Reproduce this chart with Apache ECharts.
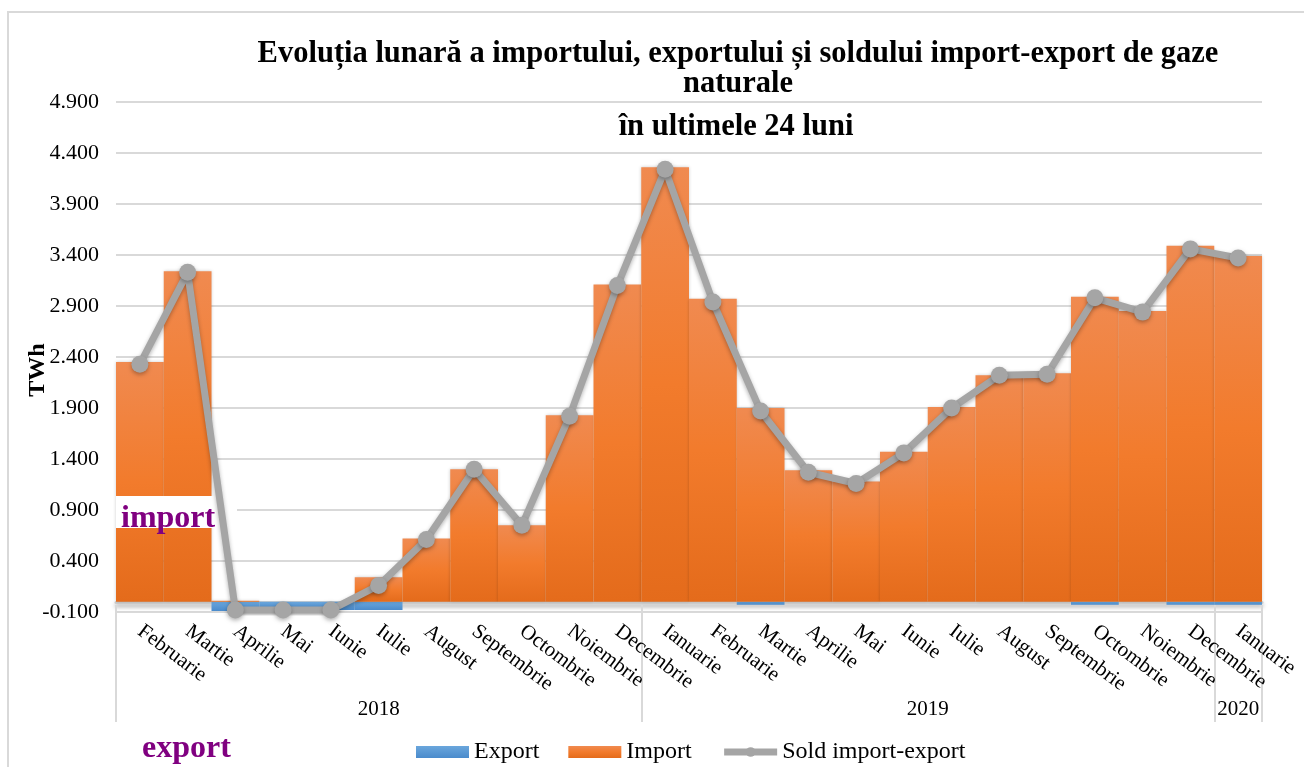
<!DOCTYPE html>
<html>
<head>
<meta charset="utf-8">
<script src="https://cdn.jsdelivr.net/npm/echarts@6/dist/echarts.min.js"></script>
<style>
  html, body { margin: 0; padding: 0; background: #fff; }
  #chart { width: 1304px; height: 767px; }
</style>
</head>
<body>
<div id="chart"></div>
<script>
var months = ['Februarie', 'Martie', 'Aprilie', 'Mai', 'Iunie', 'Iulie', 'August', 'Septembrie', 'Octombrie', 'Noiembrie', 'Decembrie',
    'Ianuarie', 'Februarie', 'Martie', 'Aprilie', 'Mai', 'Iunie', 'Iulie', 'August', 'Septembrie', 'Octombrie', 'Noiembrie', 'Decembrie',
    'Ianuarie'];
var years = ['2018', '2019', '2020'];
var yearSpans = [11, 12, 1];

var importVals = [2.35, 3.24, 0.01, 0, 0, 0.24, 0.62, 1.30, 0.75, 1.83, 3.11,
    4.26, 2.97, 1.90, 1.29, 1.18, 1.47, 1.91, 2.22, 2.24, 2.99, 2.85, 3.49,
    3.39];
var exportVals = [0, 0, -0.09, -0.08, -0.08, -0.08, 0, 0, 0, 0, 0,
    0, 0, -0.03, 0, 0, 0, 0, 0, 0, -0.03, 0, -0.03,
    -0.03];
var soldVals = [2.33, 3.23, -0.08, -0.08, -0.08, 0.16, 0.61, 1.30, 0.75, 1.82, 3.10,
    4.24, 2.94, 1.87, 1.27, 1.16, 1.46, 1.90, 2.22, 2.23, 2.98, 2.84, 3.46,
    3.37];

// y tick labels run -0.100 ... 4.900
var yMin = -0.1, yMax = 4.9, yStep = 0.5;

var serif = '"Liberation Serif", "Times New Roman", serif';

// year band boundaries and centres (in category units)
var bounds = [0], centres = [];
var acc = 0;
for (var i = 0; i < yearSpans.length; i++) {
    centres.push(acc + yearSpans[i] / 2);
    acc += yearSpans[i];
    bounds.push(acc);
}

var myChart = echarts.init(document.getElementById('chart'));
var option = {
    backgroundColor: '#fff',
    animation: false,
    title: [{
        text: 'Evoluția lunară a importului, exportului și soldului import-export de gaze\nnaturale',
        left: 733,
        textAlign: 'center',
        top: 34,
        textStyle: {
            fontFamily: serif,
            fontWeight: 'bold',
            fontSize: 30.5,
            lineHeight: 30,
            color: '#000'
        }
    }, {
        text: 'în ultimele 24 luni',
        left: 731,
        textAlign: 'center',
        top: 107,
        textStyle: {
            fontFamily: serif,
            fontWeight: 'bold',
            fontSize: 30.5,
            lineHeight: 30,
            color: '#000'
        }
    }],
    legend: {
        top: 735,
        left: 411,
        itemWidth: 53,
        itemHeight: 12,
        itemGap: 29,
        lineStyle: {width: 7},
        textStyle: {
            fontFamily: serif,
            fontSize: 24,
            color: '#000'
        },
        data: [
            {name: 'Export', icon: 'rect'},
            {name: 'Import', icon: 'rect'},
            {name: 'Sold import-export'}
        ]
    },
    grid: {
        left: 116,
        right: 42,
        top: 102,
        bottom: 155,
        containLabel: false
    },
    xAxis: [{
        type: 'category',
        data: months,
        boundaryGap: true,
        axisLine: {
            onZero: true,
            onZeroAxisIndex: 1,
            lineStyle: {
                color: '#cfcfcf',
                width: 3,
                shadowColor: 'rgba(0,0,0,0.35)',
                shadowBlur: 4,
                shadowOffsetY: 3
            }
        },
        axisTick: {show: false},
        axisLabel: {
            interval: 0,
            rotate: -37,
            margin: 17,
            fontFamily: serif,
            fontSize: 21,
            color: '#000'
        }
    }, {
        type: 'value',
        min: 0,
        max: months.length,
        position: 'bottom',
        offset: 110,
        axisLine: {show: false, onZero: false},
        splitLine: {show: false},
        axisTick: {
            show: true,
            inside: true,
            length: 117,
            customValues: bounds,
            lineStyle: {color: '#d9d9d9', width: 2}
        },
        axisLabel: {
            inside: true,
            margin: 2,
            customValues: centres,
            fontFamily: serif,
            fontSize: 21,
            color: '#000',
            formatter: function (value) {
                for (var k = 0; k < centres.length; k++) {
                    if (Math.abs(centres[k] - value) < 0.01) return years[k];
                }
                return '';
            }
        }
    }],
    yAxis: [{
        // label/grid axis, shifted by 0.1 so ticks start at -0.100
        type: 'value',
        min: 0,
        max: yMax - yMin,
        interval: yStep,
        axisLine: {show: false},
        axisTick: {show: false},
        splitLine: {
            lineStyle: {color: '#d9d9d9', width: 2}
        },
        axisLabel: {
            margin: 17,
            fontFamily: serif,
            fontSize: 22,
            color: '#000',
            formatter: function (value) {
                return (value + yMin).toFixed(3);
            }
        }
    }, {
        type: 'value',
        min: yMin,
        max: yMax,
        show: false,
        splitLine: {show: false}
    }],
    series: [{
        name: 'Export',
        type: 'bar',
        stack: 'total',
        yAxisIndex: 1,
        barCategoryGap: '0%',
        data: exportVals,
        z: 2,
        itemStyle: {
            color: new echarts.graphic.LinearGradient(0, 0, 0, 1, [
                {offset: 0, color: '#6aa6dc'},
                {offset: 1, color: '#4a8bcc'}
            ])
        }
    }, {
        name: 'Import',
        type: 'bar',
        stack: 'total',
        yAxisIndex: 1,
        barCategoryGap: '0%',
        data: importVals,
        z: 2,
        itemStyle: {
            color: new echarts.graphic.LinearGradient(0, 0, 0, 1, [
                {offset: 0, color: '#f08a50'},
                {offset: 0.5, color: '#f27b2c'},
                {offset: 1, color: '#e46b1b'}
            ]),
            shadowColor: 'rgba(0,0,0,0.2)',
            shadowBlur: 3
        }
    }, {
        name: 'Sold import-export',
        type: 'line',
        yAxisIndex: 1,
        data: soldVals,
        z: 5,
        symbol: 'circle',
        symbolSize: 17,
        lineStyle: {
            color: '#a5a5a5',
            width: 7,
            shadowColor: 'rgba(0,0,0,0.3)',
            shadowBlur: 4,
            shadowOffsetY: 2
        },
        itemStyle: {
            color: '#a5a5a5',
            shadowColor: 'rgba(0,0,0,0.3)',
            shadowBlur: 4,
            shadowOffsetY: 2
        }
    }],
    graphic: [{
        type: 'rect',
        z: -1,
        silent: true,
        shape: {x: 8, y: 12, width: 1400, height: 900},
        style: {fill: 'none', stroke: '#d9d9d9', lineWidth: 2}
    }, {
        type: 'text',
        z: 6,
        silent: true,
        x: 38,
        y: 370,
        rotation: Math.PI / 2,
        style: {
            text: 'TWh',
            fill: '#000',
            align: 'center',
            verticalAlign: 'middle',
            font: 'bold 24px "Liberation Serif", serif'
        }
    }, {
        type: 'rect',
        z: 4,
        silent: true,
        shape: {x: 116, y: 496, width: 121, height: 32},
        style: {fill: '#fff'}
    }, {
        type: 'text',
        z: 6,
        silent: true,
        left: 121,
        top: 503,
        style: {
            text: 'import',
            fill: '#800080',
            font: 'bold 32px "Liberation Serif", serif'
        }
    }, {
        type: 'text',
        z: 6,
        silent: true,
        left: 142,
        top: 733,
        style: {
            text: 'export',
            fill: '#800080',
            font: 'bold 32px "Liberation Serif", serif'
        }
    }]
};
myChart.setOption(option);
window.onresize = myChart.resize;
</script>
</body>
</html>
